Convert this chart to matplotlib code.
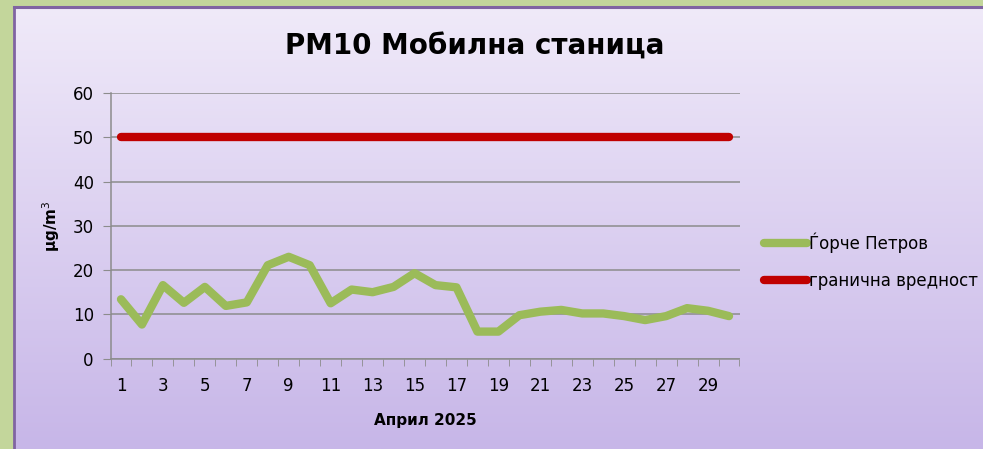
import numpy as np
import matplotlib.pyplot as plt
from matplotlib.lines import Line2D

days = list(range(1, 31))
pm10 = [13.4, 7.7, 16.6, 12.6, 16.2, 11.9, 12.7, 21.1, 23.0, 21.1,
        12.5, 15.6, 15.0, 16.2, 19.3, 16.6, 16.1, 6.1, 6.1, 9.8,
        10.6, 11.0, 10.2, 10.2, 9.6, 8.7, 9.6, 11.4, 10.8, 9.6]
limit = [50] * len(days)
series_names = ['Ѓорче Петров', 'гранична вредност']
yticks = [0, 10, 20, 30, 40, 50, 60]
xtick_labels = list(range(1, 30, 2))

W, H = 983, 449
fig = plt.figure(figsize=(W / 100, H / 100), dpi=100)
fig.patch.set_facecolor('#c3d69b')

# gradient panel with purple border
bg = fig.add_axes([14 / W, 0, 1 - 14 / W, 1 - 7 / H])
top = np.array([240, 234, 249]) / 255
bot = np.array([199, 182, 232]) / 255
t = np.linspace(0, 1, 256)[:, None]
grad = (top[None, :] * (1 - t) + bot[None, :] * t)[:, None, :]
bg.imshow(grad, aspect='auto', extent=[0, 1, 0, 1])
bg.set_xticks([])
bg.set_yticks([])
for side in ['top', 'bottom', 'right']:
    bg.spines[side].set_visible(False)
bg.spines['left'].set_color('#8064a2')
bg.spines['left'].set_linewidth(2)
fig.add_artist(Line2D([14 / W, 1], [1 - 7 / H, 1 - 7 / H], color='#8064a2', lw=2.2))

ax = fig.add_axes([110.5 / W, 1 - 358.6 / H, 629 / W, 265.6 / H])
ax.patch.set_alpha(0)

ax.plot(days, pm10, color='#9bbb59', lw=6, solid_capstyle='round',
        solid_joinstyle='round', label=series_names[0], zorder=3)
ax.plot(days, limit, color='#c00000', lw=6, solid_capstyle='round',
        label=series_names[1], zorder=3)

ax.set_xlim(0.5, 30.5)
ax.set_ylim(0, 60)
ax.set_yticks(yticks)
ax.yaxis.grid(True, color='#8c8c8c', lw=1.1)
ax.set_axisbelow(True)

ax.set_xticks(xtick_labels)
ax.set_xticklabels([str(d) for d in xtick_labels])
ax.set_xticks(np.arange(0.5, 31, 1), minor=True)
ax.tick_params(axis='x', which='major', length=0, pad=13, labelsize=12)
ax.tick_params(axis='x', which='minor', length=5, color='#8c8c8c', direction='out')
ax.tick_params(axis='y', length=6, color='#8c8c8c', direction='out', pad=6, labelsize=12)

for side in ['top', 'right']:
    ax.spines[side].set_visible(False)
for side in ['left', 'bottom']:
    ax.spines[side].set_color('#8c8c8c')
    ax.spines[side].set_linewidth(1.1)

ax.set_xlabel('Април 2025', fontsize=11, fontweight='bold', labelpad=13)
ax.set_ylabel('μg/m$^3$', fontsize=11, fontweight='bold', labelpad=8)

fig.text(475 / W, 1 - 47 / H, 'PM10 Мобилна станица', fontsize=20,
         fontweight='bold', ha='center', va='center')

ax.legend(loc='center left', bbox_to_anchor=(764 / W, 1 - 261 / H),
          bbox_transform=fig.transFigure, frameon=False, fontsize=12,
          handlelength=2.6, handletextpad=0.1, labelspacing=1.15,
          borderpad=0, borderaxespad=0)

fig.savefig('out.png', dpi=100, facecolor=fig.get_facecolor())
